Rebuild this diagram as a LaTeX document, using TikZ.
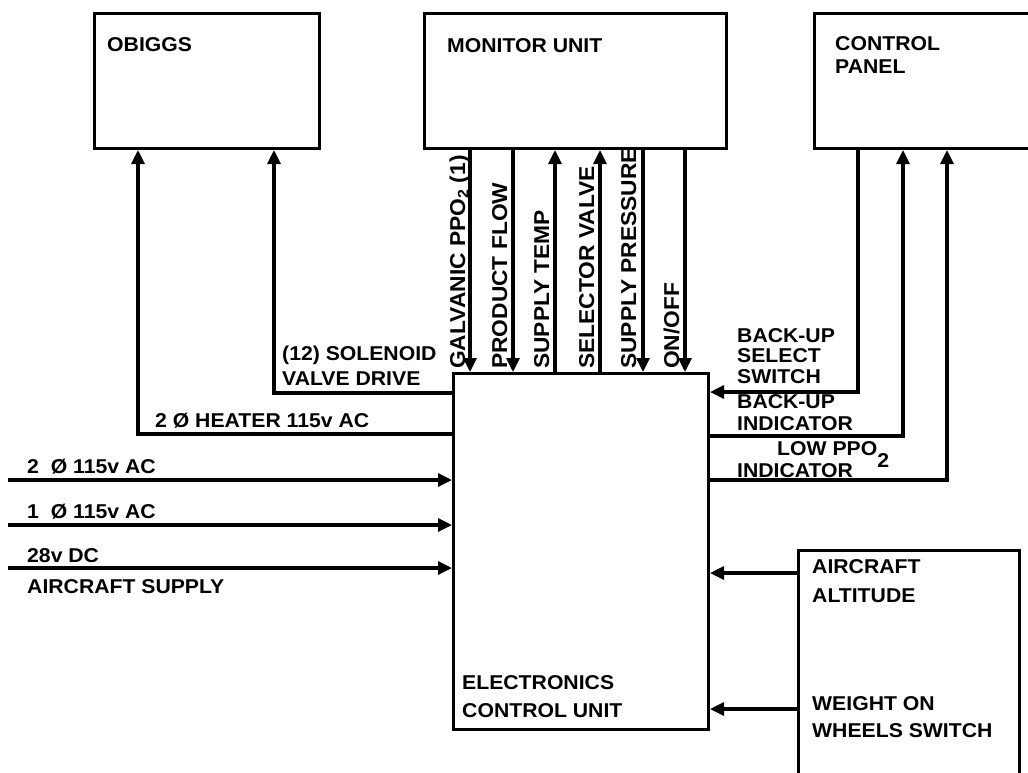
\documentclass[tikz,border=0pt]{standalone}
\usepackage{fontspec}
\setmainfont{Liberation Sans}[FakeStretch=1.06]
\usetikzlibrary{arrows.meta}
\newcommand{\lblfont}[1]{\fontsize{20}{#1}\selectfont\bfseries}
\begin{document}
\begin{tikzpicture}[x=1pt,y=-1pt,
  box/.style={draw,line width=3pt,inner sep=0pt,anchor=north west},
  sig/.style={line width=3.2pt,-{Triangle[length=14pt,width=13pt]}},
  lbl/.style={anchor=base west,inner sep=0pt,align=left,font=\lblfont{23}},
  vlbl/.style={rotate=90,anchor=base west,inner sep=0pt,font=\fontsize{21.5}{24}\selectfont\bfseries}]
\clip (0,0) rectangle (1028,772);
\node[box,minimum width=225pt,minimum height=135pt] (obiggs) at (93,12) {};
\node[box,minimum width=302pt,minimum height=135pt] (mon) at (423,12) {};
\node[box,minimum width=240pt,minimum height=135pt] (panel) at (813,12) {};
\node[box,minimum width=255pt,minimum height=356pt] (ecu) at (452,372) {};
\node[box,minimum width=221pt,minimum height=260pt] (acft) at (797,549) {};
\node[lbl] (obiggs-t) at (107,51) {OBIGGS};
\node[lbl] (mon-t) at (447,52) {MONITOR UNIT};
\node[lbl] (panel-t) at (835,73) {CONTROL\\PANEL};
\node[lbl,font=\lblfont{28}] (ecu-t) at (462,717) {ELECTRONICS\\CONTROL UNIT};
\node[lbl,font=\lblfont{29}] (alt-t) at (812,602) {AIRCRAFT\\ALTITUDE};
\node[lbl,font=\lblfont{27}] (wow-t) at (812,737) {WEIGHT ON\\WHEELS SWITCH};
\node[lbl,font=\lblfont{25}] (sol-t) at (282,385) {(12) SOLENOID\\VALVE DRIVE};
\node[lbl] (heat-t) at (155,427) {2 Ø HEATER 115v AC};
\node[lbl] (ac2-t) at (27,473) {2~~Ø 115v AC};
\node[lbl] (ac1-t) at (27,518) {1~~Ø 115v AC};
\node[lbl] (dc-t) at (27,562) {28v DC};
\node[lbl] (sup-t) at (27,593) {AIRCRAFT SUPPLY};
\node[lbl,font=\lblfont{20.5}] (bsel-t) at (737,383) {BACK-UP\\SELECT\\SWITCH};
\node[lbl,font=\lblfont{22}] (bind-t) at (737,430) {BACK-UP\\INDICATOR};
\node[lbl,font=\lblfont{22}] (low-t) at (737,477) {\hspace*{40pt}LOW PPO\smash{\raisebox{-12pt}{2}}\\INDICATOR};
\node[vlbl] (galv-t) at (465,369) {GALVANIC PPO\textsubscript{2} (1)};
\node[vlbl] (flow-t) at (507,369) {PRODUCT FLOW};
\node[vlbl] (temp-t) at (549,369) {SUPPLY TEMP};
\node[vlbl] (selv-t) at (594,369) {SELECTOR VALVE};
\node[vlbl] (pres-t) at (636,369) {SUPPLY PRESSURE};
\node[vlbl] (onoff-t) at (679,369) {ON/OFF};
\coordinate (in2) at (8,480);
\coordinate (in1) at (8,525);
\coordinate (indc) at (8,568);
\draw[sig] (in2) -- (in2 -| ecu.west);
\draw[sig] (in1) -- (in1 -| ecu.west);
\draw[sig] (indc) -- (indc -| ecu.west);
\draw[sig] (ecu.north west |- 0,434) -| ([xshift=45pt]obiggs.south west);
\draw[sig] (ecu.north west |- 0,393) -| ([xshift=181pt]obiggs.south west);
\draw[sig] ([xshift=47pt]mon.south west) -- ([xshift=47pt]mon.south west |- ecu.north);
\draw[sig] ([xshift=90pt]mon.south west) -- ([xshift=90pt]mon.south west |- ecu.north);
\draw[sig] ([xshift=132pt]mon.south west |- ecu.north) -- ([xshift=132pt]mon.south west);
\draw[sig] ([xshift=177pt]mon.south west |- ecu.north) -- ([xshift=177pt]mon.south west);
\draw[sig] ([xshift=220pt]mon.south west) -- ([xshift=220pt]mon.south west |- ecu.north);
\draw[sig] ([xshift=262pt]mon.south west) -- ([xshift=262pt]mon.south west |- ecu.north);
\draw[sig] ([xshift=45pt]panel.south west) |- (ecu.east |- 0,392);
\draw[sig] (ecu.east |- 0,436) -| ([xshift=90pt]panel.south west);
\draw[sig] (ecu.east |- 0,480) -| ([xshift=134pt]panel.south west);
\draw[sig] (acft.west |- 0,573) -- (ecu.east |- 0,573);
\draw[sig] (acft.west |- 0,709) -- (ecu.east |- 0,709);
\end{tikzpicture}
\end{document}
